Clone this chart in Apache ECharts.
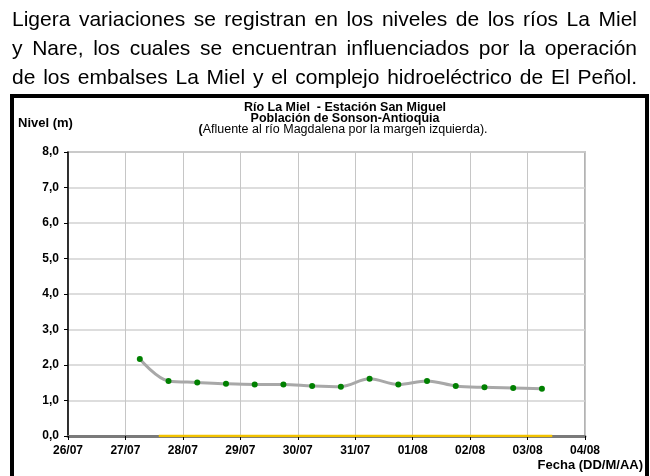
<!DOCTYPE html>
<html>
<head>
<meta charset="utf-8">
<script src="https://cdn.jsdelivr.net/npm/echarts@6/dist/echarts.min.js"></script>
<style>
  html, body { margin: 0; padding: 0; background: #fff; }
  #wrap { position: relative; width: 650px; height: 476px; overflow: hidden; }
  .ln { position: absolute; left: 12px; width: 625px; font-family: "Liberation Sans", Arial, sans-serif;
        font-size: 21px; line-height: 28px; color: #000; white-space: nowrap;
        text-align: justify; text-align-last: justify; }
  #chart { position: absolute; left: 0; top: 0; width: 650px; height: 476px; }
</style>
</head>
<body>
<div id="wrap">
  <div id="chart"></div>
  <div class="ln" style="top:5px">Ligera variaciones se registran en los niveles de los ríos La Miel</div>
  <div class="ln" style="top:34px">y Nare, los cuales se encuentran influenciados por la operación</div>
  <div class="ln" style="top:63px">de los embalses La Miel y el complejo hidroeléctrico de El Peñol.</div>
</div>
<script>
// Etiquetas del eje X (un día por división, 0 = 26/07)
const tickLabels = ['26/07','27/07','28/07','29/07','30/07','31/07','01/08','02/08','03/08','04/08'];
// Posición temporal de cada lectura (días desde 26/07; lecturas a las 06:00 y 18:00)
const xDias = [1.25, 1.75, 2.25, 2.75, 3.25, 3.75, 4.25, 4.75, 5.25, 5.75, 6.25, 6.75, 7.25, 7.75, 8.25];
// Nivel (m)
const nivel = [2.17, 1.55, 1.51, 1.47, 1.45, 1.45, 1.41, 1.39, 1.61, 1.45, 1.55, 1.41, 1.37, 1.35, 1.33];
// Línea amarilla sobre el eje (nivel 0)
const refX = [1.58, 8.43];
const refY = [0, 0];
// Ticks del eje Y
const yTicks = [0, 1, 2, 3, 4, 5, 6, 7, 8];

const chart = echarts.init(document.getElementById('chart'), null, { renderer: 'canvas' });
const F = '"Liberation Sans", Arial, sans-serif';

chart.setOption({
  animation: false,
  grid: { left: 68, right: 65, top: 152, bottom: 40, show: true, borderColor: '#9a9a9a', borderWidth: 1.5, containLabel: false },
  xAxis: {
    type: 'value', min: 0, max: 9, interval: 1,
    axisLine: { show: true, onZero: false, lineStyle: { color: '#7a7a7a', width: 3 } },
    axisTick: { show: true, length: 4, lineStyle: { color: '#000', width: 1 } },
    axisLabel: { margin: 9, fontFamily: F, fontWeight: 'bold', fontSize: 12, color: '#000',
      formatter: v => tickLabels[Math.round(v)] },
    splitLine: { show: true, lineStyle: { color: '#c6c6c6', width: 1 } }
  },
  yAxis: {
    type: 'value', min: yTicks[0], max: yTicks[yTicks.length - 1], interval: 1,
    axisLine: { show: true, lineStyle: { color: '#000', width: 1.5 } },
    axisTick: { show: true, length: 4, lineStyle: { color: '#000', width: 1 } },
    axisLabel: { margin: 9, fontFamily: F, fontWeight: 'bold', fontSize: 12, color: '#000',
      formatter: v => v.toFixed(1).replace('.', ',') },
    splitLine: { show: true, lineStyle: { color: '#d2d2d2', width: 1.5 } }
  },
  series: [
    {
      type: 'line', data: refX.map((x, i) => [x, refY[i]]), symbol: 'none',
      lineStyle: { color: '#f2c200', width: 2.5 }, z: 3
    },
    {
      type: 'line', data: xDias.map((x, i) => [x, nivel[i]]), smooth: 0.35,
      symbol: 'circle', symbolSize: 6,
      lineStyle: { color: '#a8a8a8', width: 3 },
      itemStyle: { color: '#008000', borderWidth: 0 }, z: 4
    }
  ],
  graphic: [
    { type: 'rect', shape: { x: 12, y: 96, width: 635, height: 400 }, style: { fill: 'none', stroke: '#000', lineWidth: 4 }, z: 10 },
    { type: 'text', x: 345, y: 107.5, style: { text: 'Río La Miel  - Estación San Miguel', font: 'bold 12.5px ' + F, fill: '#000', textAlign: 'center', textVerticalAlign: 'middle' } },
    { type: 'text', x: 345, y: 118.5, style: { text: 'Población de Sonson-Antioquia', font: 'bold 12.5px ' + F, fill: '#000', textAlign: 'center', textVerticalAlign: 'middle' } },
    { type: 'text', x: 343, y: 130, style: { text: '{b|(}Afluente al río Magdalena por la margen izquierda).', font: '12.5px ' + F, fill: '#000', textAlign: 'center', textVerticalAlign: 'middle',
        rich: { b: { fontWeight: 'bold', fontSize: 12.5, fontFamily: F } } } },
    { type: 'text', x: 18, y: 123, style: { text: 'Nivel (m)', font: 'bold 13px ' + F, fill: '#000', textAlign: 'left', textVerticalAlign: 'middle' } },
    { type: 'text', x: 643, y: 465, style: { text: 'Fecha (DD/M/AA)', font: 'bold 13px ' + F, fill: '#000', textAlign: 'right', textVerticalAlign: 'middle' } }
  ]
});
</script>
</body>
</html>
